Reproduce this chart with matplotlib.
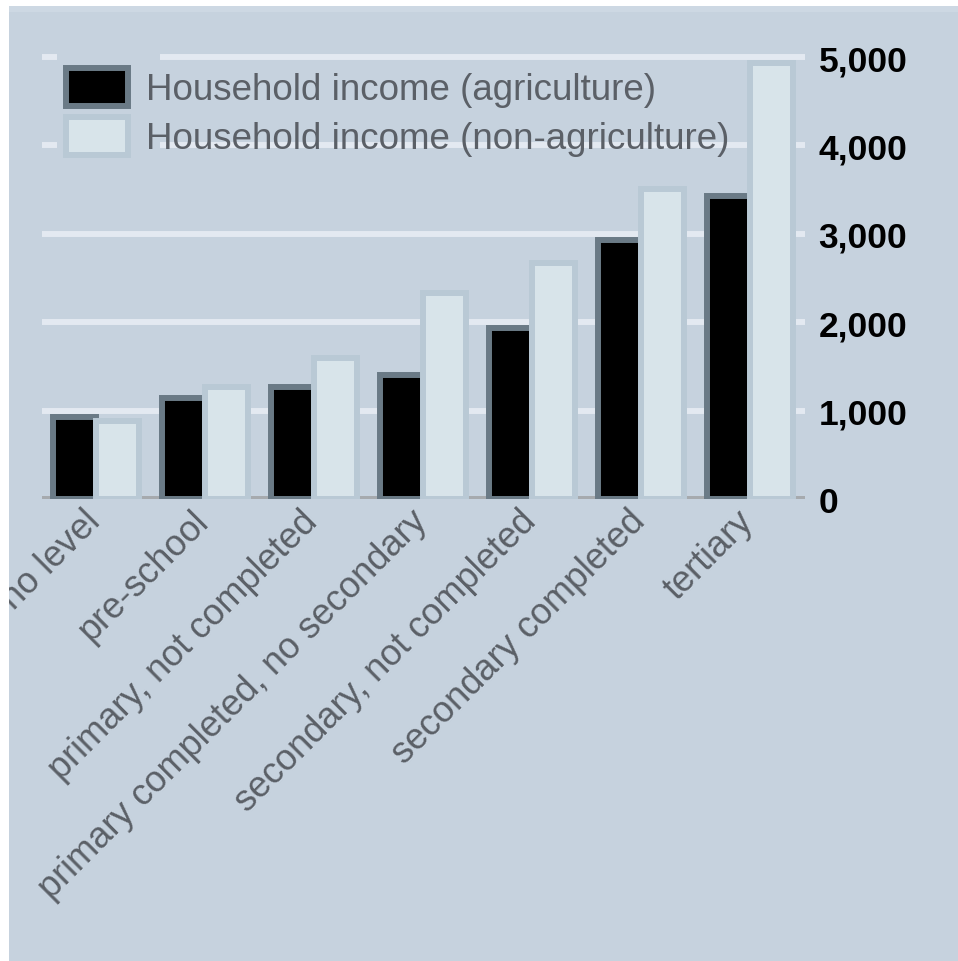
import matplotlib
matplotlib.use("Agg")
import matplotlib.pyplot as plt
import matplotlib.transforms as mtransforms
import numpy as np
from matplotlib.patches import Rectangle

# household income by education level of the household head
categories = ["no level", "pre-school", "primary, not completed",
              "primary completed, no secondary", "secondary, not completed",
              "secondary completed", "tertiary"]
income_agri = [930, 1140, 1265, 1400, 1940, 2930, 3430]
income_nonagri = [880, 1265, 1600, 2335, 2665, 3505, 4935]
series_labels = ["Household income (agriculture)",
                 "Household income (non-agriculture)"]
yticks = [0, 1000, 2000, 3000, 4000, 5000]

BG = "#c6d2de"
GRID = "#e3e9f1"
TEXT_GREY = "#5b6067"

plt.rcParams["font.family"] = ["Liberation Sans", "DejaVu Sans"]

W, H = 958, 962
fig = plt.figure(figsize=(W / 100, H / 100), dpi=100, facecolor="white")

# panel background, with a slightly lighter strip along its top
fig.patches.append(Rectangle((9 / W, 0), 1, 1 - 7 / H, transform=fig.transFigure,
                             facecolor=BG, edgecolor="none", zorder=-2))
fig.patches.append(Rectangle((9 / W, 1 - 13 / H), 1, 6 / H, transform=fig.transFigure,
                             facecolor="#cdd8e3", edgecolor="none", zorder=-1))

ax = fig.add_axes([41.5 / W, (H - 500) / H, 763 / W, 468.5 / H])
ax.set_facecolor("none")
for s in ax.spines.values():
    s.set_visible(False)

x = np.arange(len(categories))
bw = 0.39
ax.bar(x - bw / 2, income_agri, bw, color="black", edgecolor="#6a7a86",
       linewidth=4.3, label=series_labels[0], zorder=3)
ax.bar(x + bw / 2, income_nonagri, bw, color="#d8e4ea", edgecolor="#b9c9d5",
       linewidth=4.3, label=series_labels[1], zorder=3)

ax.set_xlim(-0.5, len(categories) - 0.5)
ax.set_ylim(0, 5300)

# horizontal grid, zero line in grey
for v in yticks[1:]:
    ax.axhline(v, color=GRID, lw=4.3, zorder=1)
ax.axhline(0, color="#a6aaae", lw=4.3, zorder=2)

# the legend handle column hides the top grid lines
ax.add_patch(Rectangle((15.5 / 763, 0.70), 103 / 763, 0.27, transform=ax.transAxes,
                       facecolor=BG, edgecolor="none", zorder=1.5))

ax.yaxis.tick_right()
ax.set_yticks(yticks)
ax.set_yticklabels([f"{v:,}" for v in yticks])
ax.tick_params(axis="y", length=0, pad=10, labelsize=25.5, labelcolor="black")
for lab in ax.get_yticklabels():
    lab.set_fontweight("bold")

ax.set_xticks(x)
ax.set_xticklabels(categories, rotation=45, ha="right", color=TEXT_GREY, fontsize=26)
ax.tick_params(axis="x", length=0, pad=3)
shift = mtransforms.ScaledTranslation(11 / 100, 0, fig.dpi_scale_trans)
for lab in ax.get_xticklabels():
    lab.set_transform(lab.get_transform() + shift)

leg = ax.legend(loc="upper left", bbox_to_anchor=(66 / W, 1 - 69 / H),
                bbox_transform=fig.transFigure, frameon=False, fontsize=26.5,
                handlelength=1.68, handleheight=1.2, handletextpad=0.5,
                labelspacing=0.26, borderpad=0, borderaxespad=0)
for t in leg.get_texts():
    t.set_color(TEXT_GREY)

# white margin strips drawn over everything
fig.patches.append(Rectangle((0, 0), 9 / W, 1, transform=fig.transFigure,
                             facecolor="white", edgecolor="none", zorder=10))
fig.patches.append(Rectangle((0, 1 - 7 / H), 1, 7 / H, transform=fig.transFigure,
                             facecolor="white", edgecolor="none", zorder=10))

fig.savefig("out.png", dpi=100, facecolor="white")
